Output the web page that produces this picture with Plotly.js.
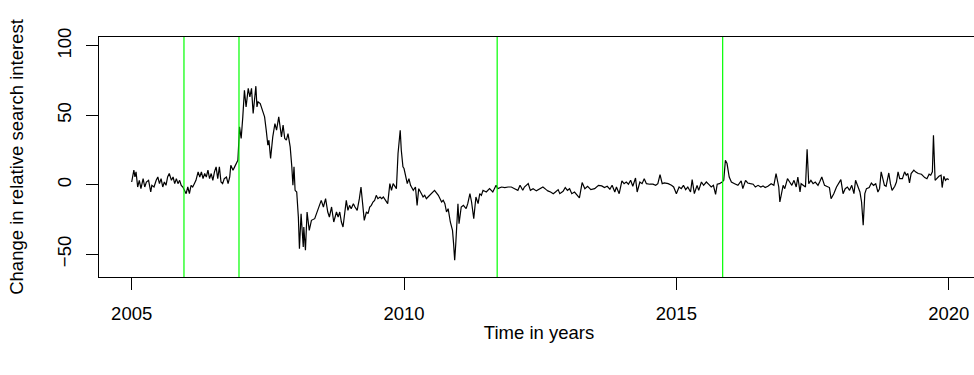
<!DOCTYPE html>
<html>
<head>
<meta charset="utf-8">
<script src="https://cdn.plot.ly/plotly-3.0.1.min.js"></script>
<style>
html, body { margin: 0; padding: 0; overflow: hidden; background: #ffffff; }
#chart { width: 1000px; height: 375px; }
</style>
</head>
<body>
<div id="chart"></div>
<script>
// Time (decimal years) and change in relative search interest
const timeYears = [
2005.00,2005.04,2005.06,2005.08,2005.11,2005.14,2005.17,2005.21,2005.24,2005.27,2005.31,2005.35,2005.37,2005.41,2005.45,2005.48,2005.51,2005.54,2005.57,2005.60,2005.63,2005.66,2005.69,2005.73,2005.76,2005.79,2005.82,2005.85,2005.88,2005.91,2005.94,2005.97,
2006.00,2006.03,2006.06,2006.09,2006.12,2006.15,2006.18,2006.22,2006.25,2006.28,2006.31,2006.34,2006.37,2006.40,2006.43,2006.46,2006.49,2006.52,2006.55,2006.58,2006.61,2006.64,2006.67,2006.70,2006.74,2006.77,2006.80,2006.82,2006.86,2006.89,2006.92,2006.95,2006.98,
2007.01,2007.04,2007.07,2007.10,2007.14,2007.17,2007.20,2007.23,2007.26,2007.28,2007.30,2007.32,2007.36,2007.41,2007.44,2007.47,2007.50,2007.52,2007.55,2007.59,2007.63,2007.66,2007.70,2007.75,2007.78,2007.81,2007.84,2007.87,2007.91,2007.94,2007.96,2007.98,
2008.00,2008.03,2008.06,2008.08,2008.11,2008.15,2008.16,2008.19,2008.22,2008.26,2008.30,2008.36,2008.42,2008.48,2008.52,2008.56,2008.60,2008.63,2008.67,2008.71,2008.76,2008.79,2008.82,2008.85,2008.88,2008.91,2008.94,2008.97,
2009.00,2009.03,2009.07,2009.10,2009.14,2009.18,2009.21,2009.24,2009.27,2009.31,2009.34,2009.37,2009.40,2009.43,2009.46,2009.49,2009.52,2009.56,2009.59,2009.62,2009.66,2009.70,2009.74,2009.77,2009.80,2009.83,2009.86,2009.89,2009.93,2009.95,2009.98,
2010.00,2010.03,2010.06,2010.09,2010.12,2010.17,2010.21,2010.24,2010.27,2010.32,2010.35,2010.38,2010.41,2010.44,2010.50,2010.56,2010.63,2010.69,2010.72,2010.75,2010.78,2010.81,2010.85,2010.89,2010.91,2010.93,2010.95,2010.97,2010.99,
2011.01,2011.05,2011.09,2011.14,2011.17,2011.21,2011.24,2011.28,2011.32,2011.36,2011.39,2011.42,2011.45,2011.51,2011.57,2011.63,2011.69,2011.72,2011.79,2011.85,2011.91,2011.97,
2012.03,2012.09,2012.13,2012.18,2012.21,2012.28,2012.32,2012.37,2012.43,2012.49,2012.55,2012.61,2012.64,2012.69,2012.74,2012.78,2012.83,2012.86,2012.92,2012.96,
2013.00,2013.04,2013.08,2013.13,2013.18,2013.22,2013.27,2013.32,2013.37,2013.43,2013.50,2013.57,2013.63,2013.68,2013.73,2013.78,2013.82,2013.87,2013.90,2013.95,
2014.00,2014.04,2014.08,2014.12,2014.16,2014.20,2014.25,2014.28,2014.33,2014.37,2014.41,2014.45,2014.51,2014.57,2014.62,2014.66,2014.70,2014.74,2014.78,2014.85,2014.91,2014.95,
2015.00,2015.05,2015.09,2015.13,2015.17,2015.21,2015.26,2015.29,2015.33,2015.38,2015.41,2015.46,2015.50,2015.55,2015.60,2015.64,2015.68,2015.72,2015.75,2015.79,2015.84,2015.87,2015.90,2015.93,2015.97,
2016.01,2016.07,2016.13,2016.19,2016.22,2016.27,2016.31,2016.36,2016.41,2016.45,2016.50,2016.55,2016.59,2016.63,2016.68,2016.74,2016.79,2016.83,2016.88,2016.90,2016.93,2016.96,2016.99,
2017.04,2017.08,2017.12,2017.16,2017.20,2017.23,2017.27,2017.29,2017.34,2017.37,2017.40,2017.43,2017.47,2017.51,2017.55,2017.60,2017.63,2017.67,2017.72,2017.77,2017.81,2017.84,2017.89,2017.94,2017.98,
2018.02,2018.06,2018.10,2018.14,2018.18,2018.22,2018.26,2018.29,2018.32,2018.37,2018.40,2018.43,2018.46,2018.49,2018.54,2018.58,2018.62,2018.66,2018.70,2018.73,2018.76,2018.79,2018.82,2018.85,2018.90,2018.93,2018.96,
2019.01,2019.04,2019.07,2019.10,2019.15,2019.19,2019.22,2019.25,2019.28,2019.31,2019.36,2019.39,2019.44,2019.50,2019.56,2019.60,2019.64,2019.67,2019.70,2019.72,2019.75,2019.78,2019.82,2019.86,2019.88,2019.91,2019.94,2019.97,2020.00
];
const searchChange = [
2.0,10.5,5.6,9.3,-1.6,3.2,-2.8,4.4,-1.6,2.0,3.2,-5.2,-0.4,-1.6,3.2,5.6,0.8,4.4,-1.6,2.0,-0.4,5.6,8.1,3.2,5.6,0.8,4.4,0.8,3.2,-0.4,-1.6,-4.0,
-6.4,-1.6,-6.4,-0.4,-1.6,0.8,3.2,9.3,5.6,9.3,4.4,8.1,5.6,10.5,4.4,8.1,3.2,9.3,12.9,4.4,12.9,2.0,0.8,4.4,5.6,0.8,5.6,14.1,10.5,12.9,15.3,17.7,41.7,
33.3,48.9,68.1,56.1,69.4,63.3,69.4,51.3,66.9,71.0,56.1,59.7,58.5,52.5,48.9,39.3,28.5,32.1,18.9,34.5,44.1,39.3,48.9,34.5,42.9,33.3,32.1,36.9,27.3,12.9,-0.4,12.9,
-4.0,-5.2,-23.2,-46.0,-20.8,-44.8,-30.4,-47.2,-19.6,-32.8,-25.6,-24.4,-18.4,-11.2,-16.0,-10.0,-19.6,-23.2,-16.0,-26.8,-19.6,-23.2,-19.6,-26.8,-30.4,-22.0,-11.2,-18.4,
-14.8,-17.2,-13.6,-16.0,-18.4,-10.0,-1.6,-13.6,-25.6,-19.6,-20.8,-16.0,-14.8,-12.4,-11.2,-7.6,-10.0,-8.8,-10.0,-8.8,-11.2,-13.6,0.8,-4.0,0.8,-1.6,-2.8,22.5,39.3,24.9,12.9,
11.7,5.6,0.8,4.4,-0.4,-4.0,-1.6,-14.8,-2.8,-6.4,-8.8,-7.6,-10.0,-8.8,-6.4,-4.0,-7.6,-12.4,-11.2,-13.6,-19.6,-17.2,-26.8,-32.8,-42.4,-54.4,-42.4,-20.8,-13.6,
-28.0,-16.0,-14.8,-17.2,-13.6,-6.4,-12.4,-24.4,-8.8,-13.6,-6.4,-7.6,-4.0,-5.2,-2.8,-5.2,-0.4,-2.8,-1.6,-2.0,-1.6,-1.6,
-2.8,-4.0,-0.4,-4.0,-1.6,0.8,-4.0,-2.8,-4.4,-2.8,-1.6,-3.5,-4.4,-5.2,-6.4,-5.2,-3.5,-6.4,-4.7,-2.0,
-4.0,-2.8,-6.4,-5.2,-7.6,-9.5,1.6,-2.8,-1.1,-3.5,-2.8,-0.4,-0.8,-2.0,-1.1,-3.2,-0.4,-5.2,-1.6,-6.4,
2.8,0.8,2.0,0.4,3.2,-1.1,4.9,-5.2,2.0,0.8,4.4,0.8,0.4,0.4,-0.4,0.8,7.3,0.8,1.3,0.8,-0.4,-1.6,
-6.4,-1.6,-2.8,-0.4,-3.5,-1.6,-5.2,3.7,-6.4,-0.4,-4.0,2.0,-0.4,2.0,0.1,-1.6,-0.4,-6.9,0.4,0.8,2.0,3.2,17.7,15.3,5.6,
2.0,0.8,-0.4,2.8,-2.8,3.2,1.3,0.8,0.4,-1.6,-0.4,-1.6,-0.8,-2.0,-1.1,0.8,-0.4,8.1,-1.6,-12.4,-6.4,-0.4,-2.8,
4.4,2.0,-0.4,3.2,-1.6,5.6,-5.2,0.8,-0.4,-1.6,25.6,0.8,3.2,0.8,2.0,-0.4,2.0,5.6,-0.4,-1.6,-2.0,-10.0,-6.4,-1.6,0.8,
3.7,-6.4,-2.8,-1.6,-4.0,-0.4,-6.4,3.2,-0.4,-5.2,-12.4,-29.2,-6.4,-2.8,-2.0,1.3,-0.4,0.8,-5.2,-2.8,9.3,4.4,-0.4,-1.1,8.5,0.8,-4.0,
-1.1,2.0,9.3,4.4,4.4,9.3,6.9,8.1,1.3,8.1,10.5,9.3,8.1,7.6,5.2,4.4,7.6,6.9,9.3,35.7,3.2,4.4,6.1,6.9,-2.0,6.1,3.2,4.4,3.7
];
// Structural break dates (vertical green lines)
const breakDates = [2005.96, 2006.97, 2011.71, 2015.85];
// Axis ticks
const xTicks = [2005, 2010, 2015, 2020];
const xTickText = ["2005", "2010", "2015", "2020"];
const yTicks = [-50, 0, 50, 100];
const yTickText = ["\u221250", "0", "50", "100"];

const fontFamily = "Liberation Sans, Arial, Helvetica, sans-serif";

const trace = {
  x: timeYears,
  y: searchChange,
  type: "scatter",
  mode: "lines",
  line: { color: "#000000", width: 1.2 },
  hoverinfo: "x+y",
  showlegend: false
};

const shapes = breakDates.map(d => ({
  type: "line", xref: "x", yref: "paper",
  x0: d, x1: d, y0: 0, y1: 1,
  line: { color: "#00ff00", width: 1.2 },
  layer: "above"
}));

const layout = {
  width: 1000,
  height: 375,
  margin: { l: 99, r: 21, t: 37, b: 98 },
  paper_bgcolor: "#ffffff",
  plot_bgcolor: "#ffffff",
  font: { family: fontFamily, size: 18.5, color: "#000000" },
  showlegend: false,
  xaxis: {
    range: [2004.40, 2020.556],
    tickmode: "array",
    tickvals: xTicks,
    ticktext: xTickText,
    ticks: "outside",
    ticklen: 12,
    tickwidth: 1,
    tickcolor: "#000000",
    ticklabelstandoff: 8,
    showline: true,
    mirror: true,
    linecolor: "#000000",
    linewidth: 1,
    showgrid: false,
    zeroline: false,
    tickfont: { family: fontFamily, size: 18.5, color: "#000000" },
    title: { text: "Time in years", font: { family: fontFamily, size: 18.5, color: "#000000" }, standoff: 2 },
    automargin: false
  },
  yaxis: {
    range: [-66.4, 106.4],
    tickmode: "array",
    tickvals: yTicks,
    ticktext: yTickText,
    tickangle: -90,
    ticks: "outside",
    ticklen: 12,
    tickwidth: 1,
    tickcolor: "#000000",
    ticklabelstandoff: 8,
    showline: true,
    mirror: true,
    linecolor: "#000000",
    linewidth: 1,
    showgrid: false,
    zeroline: false,
    tickfont: { family: fontFamily, size: 18.5, color: "#000000" },
    title: { text: "Change in relative search interest", font: { family: fontFamily, size: 18.5, color: "#000000" }, standoff: 25 },
    automargin: false
  },
  shapes: shapes
};

Plotly.newPlot("chart", [trace], layout, { displayModeBar: false, staticPlot: true });
</script>
</body>
</html>
